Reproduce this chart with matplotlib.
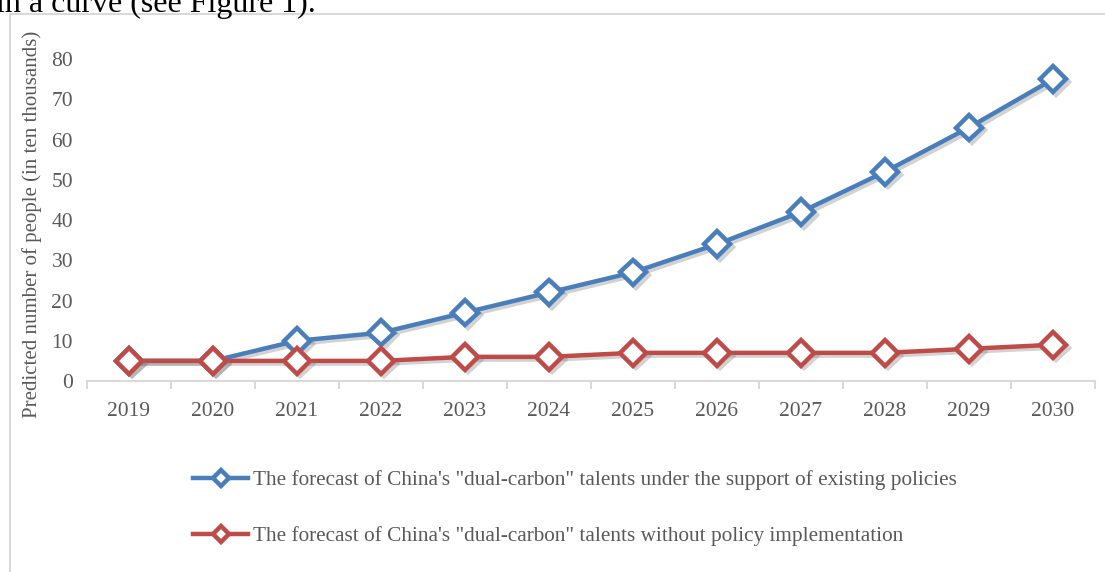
import matplotlib.pyplot as plt
import matplotlib.patheffects as pe
from matplotlib.patches import Rectangle
import numpy as np

years = ['2019', '2020', '2021', '2022', '2023', '2024', '2025', '2026', '2027', '2028', '2029', '2030']
with_policy = [5, 5, 10, 12, 17, 22, 27, 34, 42, 52, 63, 75]
without_policy = [5, 5, 5, 5, 6, 6, 7, 7, 7, 7, 8, 9]
yticks = [0, 10, 20, 30, 40, 50, 60, 70, 80]

label_with = 'The forecast of China\'s "dual-carbon" talents under the support of existing policies'
label_without = 'The forecast of China\'s "dual-carbon" talents without policy implementation'

plt.rcParams['font.family'] = ['Liberation Serif', 'DejaVu Serif']
grey = '#595959'

W, H = 1105, 572
fig = plt.figure(figsize=(W / 100, H / 100), dpi=100)

# cut-off caption line of the surrounding text
fig.text(-4 / W, 1 - 12 / H, 'in a curve (see Figure 1).', fontsize=23, color='black',
         va='baseline', ha='left')

# light frame around the chart
fig.patches.append(Rectangle((10 / W, -0.1), 1.2, 1 - 14 / H + 0.1, transform=fig.transFigure,
                             fill=False, edgecolor='#d9d9d9', linewidth=1.5))

ax = fig.add_axes([87 / W, 1 - 381 / H, (1095 - 87) / W, (381 - 39) / H])
x = np.arange(len(years))

shadow = [pe.SimpleLineShadow(offset=(2, -2), shadow_color='#7f7f7f', alpha=0.35), pe.Normal()]
ax.plot(x, with_policy, color='#4a7ebb', lw=3.2, marker='D', ms=13, mfc='white',
        mec='#4a7ebb', mew=3.2, label=label_with, path_effects=shadow, zorder=3)
ax.plot(x, without_policy, color='#be4b48', lw=3.2, marker='D', ms=13, mfc='white',
        mec='#be4b48', mew=3.2, label=label_without, path_effects=shadow, zorder=4)

ax.set_xlim(-0.5, len(years) - 0.5)
ax.set_ylim(0, 85)
ax.set_yticks(yticks)
ax.set_xticks(x)
ax.set_xticklabels(years)
ax.set_xticks(np.arange(-0.5, len(years)), minor=True)
ax.tick_params(axis='x', which='major', length=0, pad=15, labelsize=15.5, labelcolor=grey)
ax.tick_params(axis='x', which='minor', length=6, width=1.5, color='#d9d9d9')
ax.tick_params(axis='y', length=0, pad=10, labelsize=15.5, labelcolor=grey)
for side in ['top', 'right', 'left']:
    ax.spines[side].set_visible(False)
ax.spines['bottom'].set_color('#d9d9d9')
ax.spines['bottom'].set_linewidth(1.5)

fig.text(32 / W, 1 - 224 / H, 'Predicted number of people (in ten thousands)', rotation=90,
         fontsize=15, color=grey, ha='center', va='center')

leg = fig.legend(loc='upper left', bbox_to_anchor=(174 / W, 1 - 451 / H), frameon=False,
                 fontsize=15.3, labelcolor=grey, handlelength=2.6, handletextpad=0.2,
                 labelspacing=1.7, markerscale=0.6)
for line in leg.get_lines():
    line.set_path_effects([])

fig.savefig('out.png', dpi=100)
